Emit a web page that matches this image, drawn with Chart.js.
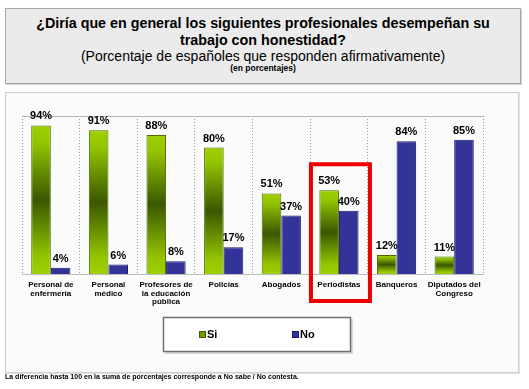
<!DOCTYPE html>
<html>
<head>
<meta charset="utf-8">
<script src="https://cdn.jsdelivr.net/npm/chart.js@4/dist/chart.umd.min.js"></script>
<style>
  html, body { margin:0; padding:0; background:#ffffff; }
  body { width:529px; height:389px; position:relative; overflow:hidden; font-family:"Liberation Sans", Arial, sans-serif; }
  #titlebox { position:absolute; left:5px; top:8px; width:514px; height:74px; background:#ebebeb; border:1px solid #a8a8a8; box-shadow:1px 1px 0 #d0d0d0; text-align:center; color:#000; }
  #t1 { position:absolute; left:0; right:0; top:6px; font-weight:bold; font-size:14.3px; line-height:17px; }
  #t2 { position:absolute; left:0; right:0; top:39px; font-size:14px; line-height:17px; }
  #t3 { position:absolute; left:0; right:0; top:54px; font-weight:bold; font-size:8.5px; line-height:10px; }
  #chartbox { position:absolute; left:5px; top:92px; width:512px; height:279px; background:#fbfbfb; border:1px solid #cfcfcf; box-shadow:1px 1px 0 #e0e0e0; }
  #wrap { position:absolute; left:5px; top:92px; width:514px; height:281px; }
  #foot { position:absolute; left:5px; top:372px; font-size:7px; line-height:9px; font-weight:bold; color:#000; white-space:nowrap; }
</style>
</head>
<body>
<div id="titlebox">
  <div id="t1">¿Diría que en general los siguientes profesionales desempeñan su<br>trabajo con honestidad?</div>
  <div id="t2">(Porcentaje de españoles que responden afirmativamente)</div>
  <div id="t3">(en porcentajes)</div>
</div>
<div id="chartbox"></div>
<div id="wrap"><canvas id="c" width="514" height="281"></canvas></div>
<div id="foot">La diferencia hasta 100 en la suma de porcentajes corresponde a No sabe / No contesta.</div>
<script>
const categories = [
  ["Personal de", "enfermería"],
  ["Personal", "médico"],
  ["Profesores de", "la educación", "pública"],
  ["Policías"],
  ["Abogados"],
  ["Periodistas"],
  ["Banqueros"],
  ["Diputados del", "Congreso"]
];
const seriesNames = ["Si", "No"];
const siValues = [94, 91, 88, 80, 51, 53, 12, 11];
const noValues = [4, 6, 8, 17, 37, 40, 84, 85];
const highlightIndex = 5;

const FONT = '"Liberation Sans", Arial, sans-serif';
const BLUE = '#333399';
const BLUE_BORDER = '#1c1c66';
const GREEN_BORDER = '#4d6b00';

function greenGradient(ctx) {
  const chart = ctx.chart;
  const ys = chart.scales && chart.scales.y;
  if (!ys || ctx.raw === undefined || !chart.chartArea) return '#7aa300';
  const top = ys.getPixelForValue(ctx.raw);
  const base = ys.getPixelForValue(0);
  if (!isFinite(top) || !isFinite(base) || base - top < 1) return '#7aa300';
  const g = chart.ctx.createLinearGradient(0, top, 0, base);
  g.addColorStop(0, '#9fd000');
  g.addColorStop(0.12, '#93c400');
  g.addColorStop(0.5, '#3a5700');
  g.addColorStop(0.88, '#93c400');
  g.addColorStop(1, '#9fd000');
  return g;
}

const decorPlugin = {
  id: 'decor',
  beforeDatasetsDraw(chart) {
    const {ctx, chartArea} = chart;
    ctx.save();
    ctx.strokeStyle = '#b4b4b4';
    ctx.lineWidth = 1;
    ctx.beginPath();
    ctx.moveTo(chartArea.left, chartArea.top + 0.5);
    ctx.lineTo(chartArea.right, chartArea.top + 0.5);
    ctx.stroke();
    ctx.restore();
  },
  afterDatasetsDraw(chart) {
    const {ctx} = chart;
    ctx.save();
    ctx.font = 'bold 11px ' + FONT;
    ctx.fillStyle = '#000';
    ctx.textAlign = 'center';
    ctx.textBaseline = 'alphabetic';
    chart.data.datasets.forEach((ds, di) => {
      const meta = chart.getDatasetMeta(di);
      meta.data.forEach((bar, i) => {
        ctx.fillText(ds.data[i] + '%', bar.x, bar.y - 6);
      });
    });
    ctx.restore();
  },
  afterDraw(chart) {
    const {ctx, chartArea, scales} = chart;
    ctx.save();
    // highlight rectangle
    const cx = scales.x.getPixelForValue(highlightIndex) + 1.5;
    const yTop = scales.y.getPixelForValue(siValues[highlightIndex]) - 26;
    const yBot = chartArea.bottom + 27;
    ctx.strokeStyle = '#ee0000';
    ctx.lineWidth = 4;
    ctx.strokeRect(cx - 29.5, yTop, 59, yBot - yTop);

    // legend box
    const bx = 158, by = 225, bw = 188, bh = 35;
    ctx.fillStyle = '#d8d8d8';
    ctx.fillRect(bx + 2, by + 2, bw, bh);
    ctx.fillStyle = '#ffffff';
    ctx.fillRect(bx, by, bw, bh);
    ctx.strokeStyle = '#707070';
    ctx.lineWidth = 1.5;
    ctx.strokeRect(bx + 0.5, by + 0.5, bw - 1, bh - 1);
    const items = [
      {x: 194, fill: '#6f9a00', border: '#3f5a00', label: seriesNames[0]},
      {x: 287, fill: BLUE, border: BLUE_BORDER, label: seriesNames[1]}
    ];
    ctx.font = 'bold 11px ' + FONT;
    ctx.textAlign = 'left';
    ctx.textBaseline = 'middle';
    items.forEach(it => {
      ctx.fillStyle = it.fill;
      ctx.fillRect(it.x, 239, 7, 7);
      ctx.strokeStyle = it.border;
      ctx.lineWidth = 1;
      ctx.strokeRect(it.x + 0.5, 239.5, 6, 6);
      ctx.fillStyle = '#000';
      ctx.fillText(it.label, it.x + 8, 243);
    });
    ctx.restore();
  }
};

new Chart(document.getElementById('c'), {
  type: 'bar',
  data: {
    labels: categories,
    datasets: [
      { label: seriesNames[0], data: siValues, backgroundColor: greenGradient, borderColor: GREEN_BORDER, borderWidth: 1 },
      { label: seriesNames[1], data: noValues, backgroundColor: BLUE, borderColor: BLUE_BORDER, borderWidth: 1 }
    ]
  },
  options: {
    responsive: false,
    animation: false,
    devicePixelRatio: 1,
    layout: { padding: { left: 17, top: 24, right: 36, bottom: 39 } },
    datasets: { bar: { categoryPercentage: 0.68, barPercentage: 1.0 } },
    plugins: { legend: { display: false }, tooltip: { enabled: false } },
    scales: {
      x: {
        offset: true,
        afterFit: (s) => { s.height = 60; },
        grid: { display: true, offset: true, color: '#9a9a9a', drawTicks: false, lineWidth: 1 },
        border: { display: true, color: '#bdbdbd', dash: [1, 2] },
        ticks: { color: '#000', font: { family: FONT, size: 8, weight: 'bold', lineHeight: 1.05 }, padding: 7, maxRotation: 0, autoSkip: false }
      },
      y: {
        display: false,
        min: 0,
        max: 100
      }
    }
  },
  plugins: [decorPlugin]
});
</script>
</body>
</html>
